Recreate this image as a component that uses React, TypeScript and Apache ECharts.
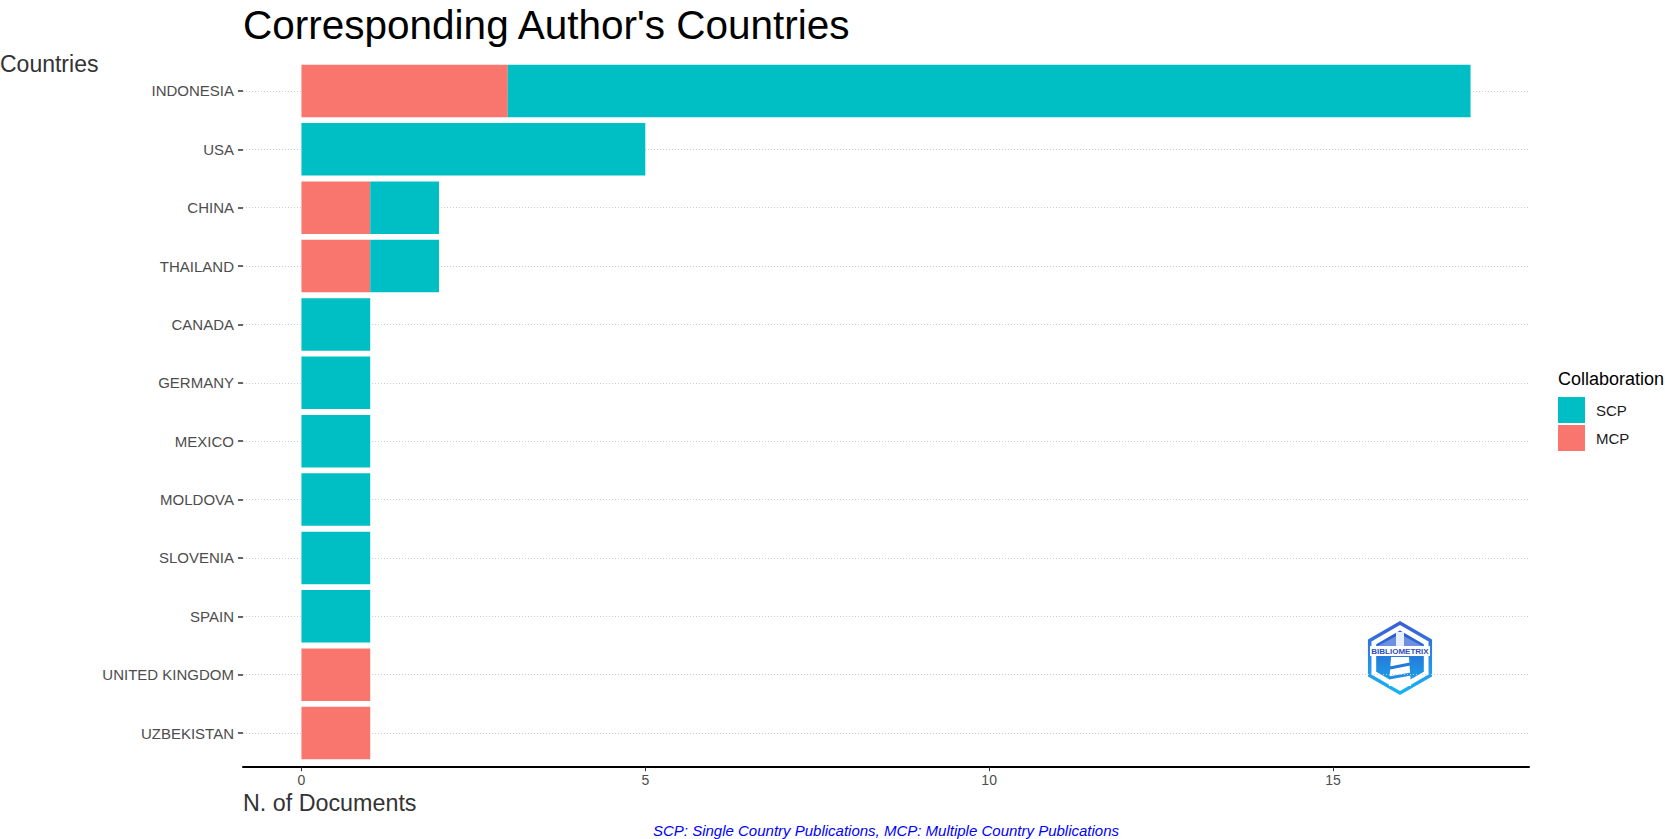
import React, { useEffect, useRef } from "react";
import * as echarts from "echarts";

const countries = [
  "INDONESIA",
  "USA",
  "CHINA",
  "THAILAND",
  "CANADA",
  "GERMANY",
  "MEXICO",
  "MOLDOVA",
  "SLOVENIA",
  "SPAIN",
  "UNITED KINGDOM",
  "UZBEKISTAN",
];
const scpValues = [14, 5, 1, 1, 1, 1, 1, 1, 1, 1, 0, 0];
const mcpValues = [3, 0, 1, 1, 0, 0, 0, 0, 0, 0, 1, 1];
const xTicks = [0, 5, 10, 15];

const TITLE = "Corresponding Author's Countries";
const Y_NAME = "Countries";
const X_NAME = "N. of Documents";
const CAPTION = "SCP: Single Country Publications, MCP: Multiple Country Publications";
const LEGEND_TITLE = "Collaboration";

const FONT = "'Liberation Sans', Arial, Helvetica, sans-serif";
const SCP_COLOR = "#00BFC4";
const MCP_COLOR = "#F8766D";

function hexPoints(cx: number, cy: number, r: number): number[][] {
  const pts: number[][] = [];
  for (let i = 0; i < 6; i++) {
    const a = (Math.PI / 180) * (-90 + i * 60);
    pts.push([cx + r * Math.cos(a), cy + r * Math.sin(a)]);
  }
  return pts;
}

export default function App() {
  const ref = useRef<HTMLDivElement>(null);

  useEffect(() => {
    if (!ref.current) return;
    const chart = echarts.init(ref.current, undefined, { renderer: "svg" });
    const cx = 1400;
    const cy = 658;
    const option: any = {
      animation: false,
      backgroundColor: "#ffffff",
      textStyle: { fontFamily: FONT },
      grid: { left: 243, right: 136, top: 61.8, bottom: 76.8, containLabel: false },
      legend: {
        data: ["SCP", "MCP"],
        orient: "vertical",
        left: 1558,
        top: 397,
        padding: 0,
        itemWidth: 27,
        itemHeight: 26,
        itemGap: 2,
        icon: "rect",
        selectedMode: false,
        textStyle: { fontSize: 15, color: "#1a1a1a", fontFamily: FONT, padding: [0, 0, 0, 6] },
      },
      xAxis: {
        type: "value",
        min: -0.85,
        max: 17.85,
        offset: 5,
        axisLine: { show: true, lineStyle: { color: "#000000", width: 2 } },
        axisTick: { show: true, length: 4, lineStyle: { color: "#333333" }, customValues: xTicks },
        axisLabel: {
          customValues: xTicks,
          fontSize: 14,
          color: "#4d4d4d",
          margin: 6,
          fontFamily: FONT,
        },
        splitLine: { show: false },
      },
      yAxis: {
        type: "category",
        data: countries,
        inverse: true,
        axisLine: { show: false, onZero: false },
        axisTick: { show: true, length: 5, alignWithLabel: true, lineStyle: { color: "#333333", width: 1.5 } },
        axisLabel: { fontSize: 15, color: "#4d4d4d", margin: 9, fontFamily: FONT },
        splitLine: {
          show: true,
          alignWithLabel: true,
          lineStyle: { color: "#d4c8d4", type: [1, 2], width: 1 },
        },
      },
      series: [
        {
          name: "MCP",
          type: "bar",
          stack: "total",
          barWidth: "90%",
          itemStyle: { color: MCP_COLOR },
          data: mcpValues,
        },
        {
          name: "SCP",
          type: "bar",
          stack: "total",
          barWidth: "90%",
          itemStyle: { color: SCP_COLOR },
          data: scpValues,
        },
      ],
      graphic: [
        {
          type: "text",
          left: 243,
          top: 4,
          style: { text: TITLE, fontSize: 40.5, fill: "#000000", fontFamily: FONT },
        },
        {
          type: "text",
          left: 0,
          top: 52,
          style: { text: Y_NAME, fontSize: 23, fill: "#333333", fontFamily: FONT },
        },
        {
          type: "text",
          left: 243,
          top: 791,
          style: { text: X_NAME, fontSize: 23.3, fill: "#333333", fontFamily: FONT },
        },
        {
          type: "text",
          x: 886,
          y: 830,
          style: {
            text: CAPTION,
            fontSize: 15,
            fontStyle: "italic",
            fill: "#0000ff",
            fontFamily: FONT,
            align: "center",
            verticalAlign: "middle",
          },
        },
        {
          type: "text",
          left: 1558,
          top: 370,
          style: { text: LEGEND_TITLE, fontSize: 18, fill: "#000000", fontFamily: FONT },
        },
        {
          type: "group",
          children: [
            {
              type: "polygon",
              shape: { points: hexPoints(cx, cy, 35) },
              style: {
                fill: "#ffffff",
                stroke: new echarts.graphic.LinearGradient(0, 0, 0, 1, [
                  { offset: 0, color: "#3b5fd4" },
                  { offset: 1, color: "#16b4f2" },
                ]),
                lineWidth: 3.5,
              },
            },
            {
              type: "polygon",
              shape: { points: hexPoints(cx, cy, 27.5) },
              style: {
                fill: new echarts.graphic.LinearGradient(0, 0, 0, 1, [
                  { offset: 0, color: "#2f56c8" },
                  { offset: 1, color: "#1aa6ee" },
                ]),
              },
            },
            {
              type: "polygon",
              shape: { points: [[cx - 22, 646], [cx, 634], [cx + 22, 646]] },
              style: { fill: "#6f8fe0" },
            },
            {
              type: "rect",
              shape: { x: cx - 4, y: 632, width: 8, height: 14 },
              style: { fill: "#e6eeff" },
            },
            {
              type: "rect",
              shape: { x: cx - 30, y: 646, width: 60, height: 10 },
              style: { fill: "#ffffff" },
            },
            {
              type: "text",
              x: cx,
              y: 651.5,
              style: {
                text: "BIBLIOMETRIX",
                fontSize: 8,
                fontWeight: "bold",
                fill: "#2a4fc0",
                fontFamily: FONT,
                align: "center",
                verticalAlign: "middle",
              },
            },
            {
              type: "polygon",
              shape: { points: [[cx - 9, 657], [cx + 9, 657], [cx + 11, 686], [cx - 11, 686]] },
              style: { fill: "#ffffff" },
            },
            {
              type: "line",
              shape: { x1: cx - 10, y1: 668, x2: cx + 10, y2: 664 },
              style: { stroke: "#2378dc", lineWidth: 3 },
            },
            {
              type: "line",
              shape: { x1: cx - 11, y1: 678, x2: cx + 11, y2: 674 },
              style: { stroke: "#1f8fe6", lineWidth: 3 },
            },
          ],
        },
      ],
    };
    chart.setOption(option);
    return () => chart.dispose();
  }, []);

  return (
    <div
      ref={ref}
      style={{ position: "fixed", left: 0, top: 0, width: 1665, height: 839, background: "#fff" }}
    />
  );
}
